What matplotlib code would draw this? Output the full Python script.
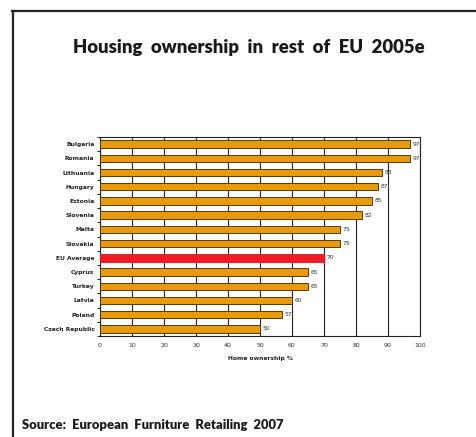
import matplotlib
matplotlib.use("Agg")
import matplotlib.pyplot as plt
from matplotlib.lines import Line2D
import numpy as np

countries = ["Bulgaria", "Romania", "Lithuania", "Hungary", "Estonia", "Slovenia",
             "Malta", "Slovakia", "EU Average", "Cyprus", "Turkey", "Latvia",
             "Poland", "Czech Republic"]
values = [97, 97, 88, 87, 85, 82, 75, 75, 70, 65, 65, 60, 57, 50]
highlight = "EU Average"
xticks = [0, 10, 20, 30, 40, 50, 60, 70, 80, 90, 100]

W, H = 476, 437
fig = plt.figure(figsize=(W / 100, H / 100), dpi=100)
fig.patch.set_facecolor("white")

# outer frame lines
fig.add_artist(Line2D([12 / W, 1.0], [1 - 11 / H, 1 - 11 / H], color="#222222", lw=1.6,
                      transform=fig.transFigure))
fig.add_artist(Line2D([13 / W, 13 / W], [1 - 11 / H, 0.0], color="#222222", lw=1.6,
                      transform=fig.transFigure))

ax = fig.add_axes([100 / W, 1 - 336 / H, 320 / W, 199 / H])
n = len(countries)
y = np.arange(n)
colors = ["#EE1C25" if c == highlight else "#E89A0C" for c in countries]
edges = ["#EE1C25" if c == highlight else "#5A3A00" for c in countries]
ax.barh(y, values, height=0.52, color=colors, edgecolor=edges, linewidth=0.7, zorder=3)
ax.set_ylim(n - 0.5, -0.5)
ax.set_xlim(0, 100)
ax.set_xticks(xticks)
ax.set_xticklabels([str(t) for t in xticks], fontsize=4.5, color="#333333")
ax.set_yticks(y)
ax.set_yticklabels(countries, fontsize=4.3, fontweight="bold", color="#222222")
ax.set_yticks(np.arange(-0.5, n, 1), minor=True)
ax.tick_params(axis="y", which="major", length=0, pad=4)
ax.tick_params(axis="y", which="minor", length=2.5, width=0.6, direction="out")
ax.tick_params(axis="x", length=0, pad=5)
ax.grid(axis="x", color="#222222", lw=0.8, zorder=0)
for s in ax.spines.values():
    s.set_color("#222222")
    s.set_linewidth(0.8)
for yi, v in zip(y, values):
    ax.text(v + 0.8, yi, str(v), fontsize=4.3, va="center", ha="left", color="#333333")
ax.set_xlabel("Home ownership %", fontsize=4.3, fontweight="bold", color="#222222", labelpad=6)

fig.text(249 / W, 1 - 48 / H, "Housing  ownership  in  rest  of  EU  2005e",
         fontsize=13.3, fontweight="heavy", family="Lato", ha="center", va="center", color="#1a1a1a")
fig.text(22 / W, 1 - 425 / H, "Source:  European  Furniture  Retailing  2007",
         fontsize=9.4, fontweight="heavy", family="Lato", ha="left", va="center", color="#1a1a1a")

fig.savefig("out.png", dpi=100, facecolor="white")
